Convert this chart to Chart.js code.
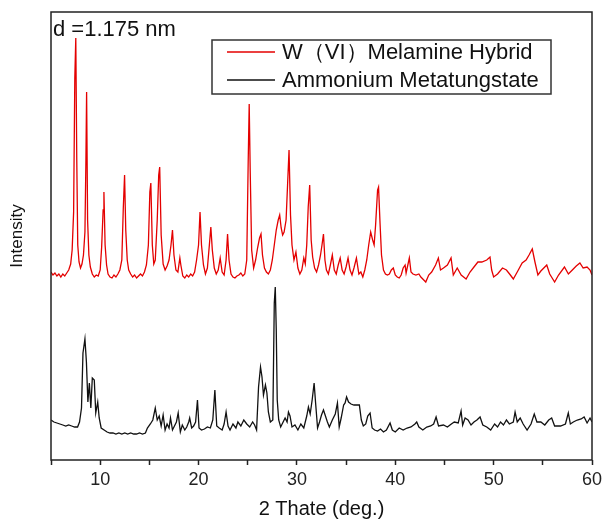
<!DOCTYPE html>
<html>
<head>
<meta charset="utf-8">
<script src="https://cdn.jsdelivr.net/npm/chart.js@4.4.1/dist/chart.umd.min.js"></script>
<style>
  html, body { margin: 0; padding: 0; background: #fff; }
  canvas { display: block; }
</style>
</head>
<body>
<canvas id="xrdChart" width="604" height="528"></canvas>
<script>
'use strict';

// 2-theta positions and intensities (a.u.), hybrid pattern is stacked above
const hybridTheta = [
  5.00, 5.20, 5.40, 5.60, 5.80, 6.00, 6.20, 6.40, 6.60, 6.80, 7.00, 7.15, 7.30, 7.42, 7.52, 7.62, 7.72, 7.85,
  8.00, 8.15, 8.30, 8.45, 8.55, 8.62, 8.72, 8.85, 9.00, 9.20, 9.40, 9.60, 9.80, 10.00, 10.15, 10.30, 10.38,
  10.50, 10.65, 10.80, 11.00, 11.20, 11.40, 11.60, 11.80, 12.00, 12.20, 12.35, 12.48, 12.60, 12.75, 12.90,
  13.10, 13.30, 13.50, 13.70, 13.90, 14.10, 14.30, 14.50, 14.70, 14.90, 15.05, 15.15, 15.30, 15.45, 15.60,
  15.80, 15.95, 16.05, 16.20, 16.40, 16.60, 16.80, 17.00, 17.20, 17.35, 17.50, 17.70, 17.90, 18.10, 18.20,
  18.40, 18.60, 18.80, 19.00, 19.20, 19.40, 19.60, 19.80, 20.00, 20.15, 20.30, 20.50, 20.70, 20.90, 21.10,
  21.25, 21.40, 21.60, 21.80, 22.00, 22.20, 22.40, 22.60, 22.80, 22.95, 23.10, 23.30, 23.50, 23.70, 23.90,
  24.10, 24.30, 24.50, 24.70, 24.90, 25.05, 25.15, 25.25, 25.40, 25.60, 25.80, 26.00, 26.20, 26.35, 26.50,
  26.70, 26.90, 27.10, 27.30, 27.50, 27.70, 27.90, 28.10, 28.25, 28.40, 28.55, 28.70, 28.90, 29.05, 29.20,
  29.35, 29.50, 29.70, 29.90, 30.10, 30.30, 30.50, 30.70, 30.85, 31.00, 31.15, 31.30, 31.45, 31.60, 31.80,
  32.00, 32.20, 32.40, 32.55, 32.70, 32.85, 33.00, 33.20, 33.40, 33.60, 33.80, 34.00, 34.20, 34.40, 34.60,
  34.80, 35.00, 35.20, 35.40, 35.60, 35.80, 36.05, 36.30, 36.50, 36.70, 36.90, 37.10, 37.30, 37.50, 37.70,
  37.85, 38.00, 38.20, 38.30, 38.45, 38.60, 38.80, 39.00, 39.20, 39.40, 39.60, 39.80, 40.00, 40.20, 40.40,
  40.60, 40.80, 41.00, 41.10, 41.43, 41.60, 41.80, 42.10, 42.40, 42.60, 43.10, 43.40, 43.70, 44.10, 44.38,
  44.60, 44.90, 45.30, 45.67, 45.90, 46.30, 46.70, 47.20, 47.60, 48.00, 48.40, 48.80, 49.30, 49.63, 49.80,
  50.00, 50.40, 50.90, 51.30, 51.70, 52.00, 52.40, 52.90, 53.30, 53.60, 53.93, 54.20, 54.50, 54.80, 55.40,
  55.70, 56.20, 56.60, 57.20, 57.60, 58.00, 58.40, 58.77, 59.10, 59.50, 59.80, 60.00
];
const hybridCounts = [
  188, 185, 187, 184, 186, 183, 186, 184, 187, 190, 196, 210, 248, 382, 422, 300, 215, 198,
  192, 196, 205, 228, 300, 368, 240, 205, 193, 186, 183, 185, 184, 190, 213, 250, 268,
  215, 195, 186, 183, 182, 185, 183, 186, 190, 200, 252, 285, 230, 200, 190,
  186, 183, 185, 182, 184, 186, 184, 188, 195, 215, 268, 277, 215, 196, 200,
  240, 285, 293, 225, 196, 190, 194, 200, 215, 230, 205, 190, 188, 202, 195,
  184, 182, 185, 183, 186, 184, 188, 200, 215, 248, 215, 195, 186, 192, 215,
  233, 210, 192, 186, 190, 202, 188, 185, 200, 226, 200, 186, 183, 182, 184,
  185, 187, 184, 186, 200, 300, 356, 290, 210, 192, 200, 212, 222, 226, 205,
  192, 188, 186, 190, 200, 215, 230, 240, 245, 232, 225, 228, 240, 275, 310,
  245, 215, 200, 208, 192, 186, 190, 202, 196, 215, 253, 275, 220, 203, 192,
  188, 195, 205, 215, 226, 200, 190, 186, 195, 205, 190, 186, 195, 202, 190,
  186, 193, 202, 190, 185, 192, 202, 186, 188, 183, 190, 200, 215, 228, 220,
  215, 235, 270, 273, 237, 205, 190, 186, 185, 186, 190, 192, 185, 183, 182,
  185, 192, 195, 187, 202, 188, 186, 185, 186, 183, 178, 185, 188, 195, 202,
  190, 192, 195, 202, 185, 192, 185, 181, 188, 193, 198, 198, 200, 203, 190,
  183, 186, 192, 190, 185, 181, 188, 197, 200, 205, 211, 198, 185, 189, 195,
  186, 178, 185, 193, 186, 190, 194, 197, 192, 193, 190, 185
];

const ammoniumTheta = [
  5.00, 5.30, 5.60, 5.90, 6.20, 6.50, 6.80, 7.10, 7.40, 7.70, 7.90, 8.10, 8.25, 8.45, 8.60, 8.75, 8.90,
  9.05, 9.20, 9.40, 9.55, 9.75, 9.90, 10.10, 10.40, 10.70, 11.00, 11.30, 11.60, 11.90, 12.20, 12.50,
  12.80, 13.10, 13.40, 13.70, 14.00, 14.30, 14.60, 14.80, 15.10, 15.35, 15.60, 15.80, 16.00, 16.20,
  16.40, 16.60, 16.80, 17.00, 17.15, 17.35, 17.55, 17.75, 17.93, 18.15, 18.35, 18.60, 18.80, 19.00,
  19.10, 19.30, 19.50, 19.70, 19.89, 20.05, 20.30, 20.60, 20.90, 21.20, 21.45, 21.66, 21.85, 22.10,
  22.40, 22.60, 22.80, 23.00, 23.20, 23.50, 23.80, 24.00, 24.30, 24.60, 24.90, 25.20, 25.50, 25.70,
  25.90, 26.10, 26.30, 26.45, 26.60, 26.80, 26.95, 27.10, 27.30, 27.55, 27.70, 27.80, 27.90, 28.00,
  28.15, 28.35, 28.60, 28.80, 29.00, 29.14, 29.30, 29.50, 29.80, 30.10, 30.40, 30.70, 31.00, 31.17,
  31.35, 31.55, 31.75, 31.90, 32.10, 32.30, 32.50, 32.70, 32.90, 33.10, 33.30, 33.60, 33.90, 34.12,
  34.30, 34.50, 34.75, 34.90, 35.05, 35.25, 35.50, 35.80, 36.10, 36.35, 36.55, 36.75, 37.00, 37.20,
  37.44, 37.65, 37.90, 38.20, 38.50, 38.80, 39.10, 39.47, 39.70, 40.00, 40.40, 40.80, 41.20, 41.60,
  42.00, 42.18, 42.40, 42.80, 43.20, 43.60, 43.90, 44.15, 44.40, 44.90, 45.30, 45.70, 46.00, 46.40,
  46.69, 46.85, 47.10, 47.40, 47.70, 48.00, 48.30, 48.62, 48.90, 49.30, 49.70, 50.10, 50.40, 50.70,
  51.00, 51.30, 51.60, 52.00, 52.18, 52.40, 52.70, 53.00, 53.40, 53.80, 54.13, 54.40, 54.80, 55.20,
  55.60, 55.90, 56.20, 56.80, 57.30, 57.59, 57.80, 58.10, 58.50, 58.90, 59.20, 59.50, 59.80, 60.00
];
const ammoniumCounts = [
  40, 38, 37, 36, 35, 34, 35, 34, 33, 33, 38, 52, 107, 121, 98, 58, 77,
  52, 82, 80, 47, 58, 42, 32, 30, 28, 27, 27, 26, 27, 26, 27,
  26, 27, 26, 26, 27, 26, 27, 32, 36, 40, 52, 40, 44, 34,
  45, 30, 36, 32, 42, 30, 34, 38, 47, 28, 35, 30, 33, 38,
  42, 32, 34, 38, 60, 32, 30, 31, 33, 32, 40, 70, 34, 32,
  30, 36, 48, 34, 30, 36, 32, 38, 34, 40, 36, 33, 38, 35,
  30, 73, 93, 83, 65, 75, 67, 48, 38, 40, 157, 173, 130, 60,
  40, 33, 38, 42, 38, 48, 44, 33, 35, 30, 36, 32, 44, 53,
  46, 60, 77, 57, 32, 38, 45, 50, 44, 38, 33, 40, 46, 57,
  33, 42, 55, 57, 63, 58, 56, 55, 55, 55, 40, 34, 36, 44,
  47, 32, 30, 29, 31, 28, 30, 37, 30, 28, 32, 30, 32, 33,
  36, 38, 33, 30, 33, 34, 36, 43, 34, 35, 33, 36, 38, 37,
  49, 35, 42, 40, 35, 38, 40, 43, 35, 33, 30, 36, 33, 38,
  35, 40, 36, 38, 48, 38, 42, 36, 30, 36, 46, 38, 38, 35,
  40, 42, 34, 34, 36, 47, 36, 38, 40, 41, 43, 37, 42, 38
];

const seriesNames = ['W\uFF08VI\uFF09Melamine Hybrid', 'Ammonium Metatungstate'];
const xTicks = [10, 20, 30, 40, 50, 60];
const spacingLabel = 'd =1.175 nm';

const FONT = '"Liberation Sans", Arial, sans-serif';

function toPoints(xs, ys) {
  return xs.map((x, i) => ({ x: x, y: ys[i] }));
}

// box round the plot, legend and d-spacing note
const framePlugin = {
  id: 'frame',
  afterDraw(chart) {
    const ctx = chart.ctx;
    const a = chart.chartArea;
    ctx.save();
    ctx.strokeStyle = '#222';
    ctx.lineWidth = 1.5;
    ctx.strokeRect(a.left, a.top, a.right - a.left, a.bottom - a.top);

    ctx.fillStyle = '#111';
    ctx.font = '22px ' + FONT;
    ctx.textBaseline = 'alphabetic';
    ctx.fillText(spacingLabel, a.left + 2, a.top + 24);

    // legend box
    const lx = 212, ly = 40, lw = 339, lh = 54;
    ctx.fillStyle = '#fff';
    ctx.fillRect(lx, ly, lw, lh);
    ctx.strokeStyle = '#333';
    ctx.lineWidth = 1.5;
    ctx.strokeRect(lx, ly, lw, lh);
    ctx.font = '22px ' + FONT;
    ctx.textBaseline = 'middle';
    chart.data.datasets.forEach((ds, i) => {
      const y = ly + 12 + i * 28;
      ctx.strokeStyle = ds.borderColor;
      ctx.lineWidth = 1.3;
      ctx.beginPath();
      ctx.moveTo(lx + 15, y);
      ctx.lineTo(lx + 63, y);
      ctx.stroke();
      ctx.fillStyle = '#111';
      ctx.fillText(ds.label, lx + 70, y + 1);
    });
    ctx.restore();
  }
};

const chartObj = {
  type: 'line',
  data: {
    datasets: [{
      label: seriesNames[0],
      data: toPoints(hybridTheta, hybridCounts),
      borderColor: 'rgb(228, 0, 0)',
      borderWidth: 1.3,
      pointRadius: 0,
      tension: 0
    }, {
      label: seriesNames[1],
      data: toPoints(ammoniumTheta, ammoniumCounts),
      borderColor: '#111',
      borderWidth: 1.3,
      pointRadius: 0,
      tension: 0
    }]
  },
  options: {
    responsive: false,
    animation: false,
    layout: { padding: { top: 12, right: 12, left: 0, bottom: 0 } },
    plugins: {
      legend: { display: false },
      tooltip: { enabled: false }
    },
    scales: {
      x: {
        type: 'linear',
        min: 5,
        max: 60,
        afterFit(scale) {
          scale.height = 68;
          // let layout padding alone decide the right edge
          scale.paddingLeft = 0;
          scale.paddingRight = 0;
        },
        afterBuildTicks(scale) {
          const ticks = [];
          for (let v = 5; v <= 60; v += 5) ticks.push({ value: v });
          scale.ticks = ticks;
        },
        ticks: {
          autoSkip: false,
          maxRotation: 0,
          padding: 4,
          color: '#222',
          font: { family: FONT, size: 18 },
          callback: (v) => (xTicks.includes(v) ? String(v) : '')
        },
        grid: {
          drawOnChartArea: false,
          drawTicks: true,
          tickLength: 5,
          tickColor: '#222',
          tickWidth: 1.5
        },
        border: { display: false },
        title: {
          display: true,
          text: '2 Thate (deg.)',
          color: '#111',
          font: { family: FONT, size: 20 },
          padding: { top: 0, bottom: 7 }
        }
      },
      y: {
        min: 0,
        max: 448,
        afterFit(scale) { scale.width = 51; },
        ticks: { display: false },
        grid: { display: false, drawTicks: false },
        border: { display: false },
        title: {
          display: true,
          text: 'Intensity',
          color: '#111',
          font: { family: FONT, size: 17 },
          padding: 7
        }
      }
    }
  },
  plugins: [framePlugin]
};

const ctx = document.getElementById('xrdChart').getContext('2d');
const xrdChart = new Chart(ctx, chartObj);
</script>
</body>
</html>
